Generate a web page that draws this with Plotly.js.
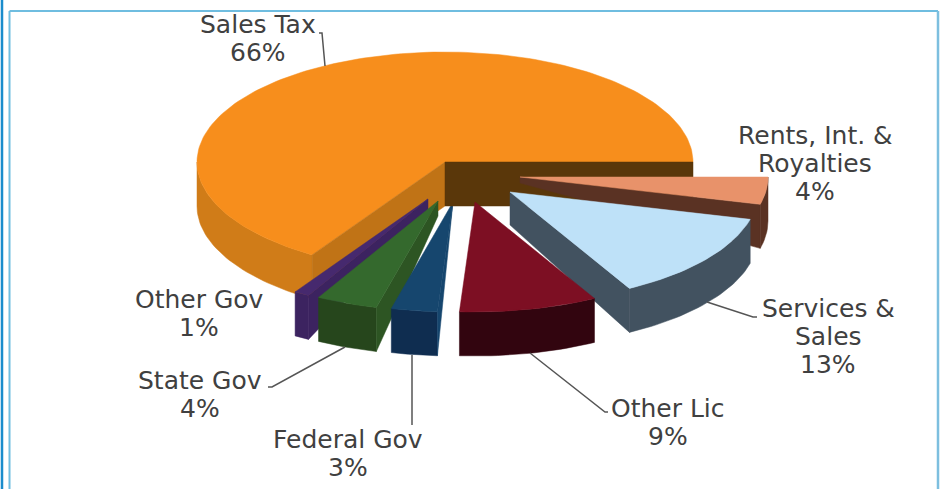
<!DOCTYPE html>
<html>
<head>
<meta charset="utf-8">
<script src="https://cdn.plot.ly/plotly-3.0.1.min.js"></script>
<style>html,body{margin:0;padding:0;background:#fff}#c{width:943px;height:489px}</style>
</head>
<body>
<div id="c"></div>
<script>
// Data, counter-clockwise from east
const categories = ["Sales Tax","Other Gov","State Gov","Federal Gov","Other Lic","Services &<br>Sales","Rents, Int. &<br>Royalties"];
const shares = [66,1,4,3,9,13,4];

// Styles for each slice
const topColors  = ["#f78e1c","#46296e","#34692d","#16466e","#7d0f23","#bee1f8","#e8926a"];
const arcColors  = ["#d07c18","#3c2360","#26461c","#0f2d50","#32050f","#425260","#5a3223"];
const sideColors = ["#5a370a","#3c2360","#2d5523","#16466e","#32050f","#425260","#5a3223"];

// Pull of each slice from the pie centre, and the depth of its inner corner
const pullX = [0,-17,-7,8,30,65,75];
const pullY = [0,37,39,40,40,30,15];
const innerDepth = [44,14,15,0,44,33,6];

// Label anchors and leader paths
const labelX = [258,199,200,348,668,828,815];
const labelY = [38,313,394,453,422,336,163];
const leaderX = [[319,322,325],[],[268,272,345],[412,412],[530,605,608],[707,753,757],[]];
const leaderY = [[33,33,66],[],[387,387,347],[355,425],[353,412,412],[302,317,317],[]];

// Pie projection
const cx = 445, cy = 162, rx = 248, ry = 110, depth = 44, lineGap = 28;
const rad = d => d * Math.PI / 180;
const px = (i, a) => cx + pullX[i] + rx * Math.cos(rad(a));
const py = (i, a) => cy + pullY[i] - ry * Math.sin(rad(a));

const total = shares.reduce((s, v) => s + v, 0);
let run = 0;
const spans = shares.map(v => { const a0 = run * 360 / total; run += v; return [a0, run * 360 / total]; });

function arcAngles(a0, a1) {
  const n = Math.max(2, Math.ceil((a1 - a0) / 1.5));
  const out = [];
  for (let k = 0; k <= n; k++) out.push(a0 + (a1 - a0) * k / n);
  return out;
}
function poly(x, y, color) {
  return {type:"scatter", mode:"lines", x:x.concat(x[0]), y:y.concat(y[0]), fill:"toself",
          fillcolor:color, line:{width:0.5, color:color}, hoverinfo:"skip", showlegend:false};
}
function topFace(i) {
  const as = arcAngles(spans[i][0], spans[i][1]);
  return poly([cx + pullX[i]].concat(as.map(a => px(i, a))),
              [cy + pullY[i]].concat(as.map(a => py(i, a))), topColors[i]);
}
function arcWall(i) {
  const a0 = Math.max(spans[i][0], 180), a1 = spans[i][1];
  const as = arcAngles(a0, a1);
  const rev = as.slice().reverse();
  return poly(as.map(a => px(i, a)).concat(rev.map(a => px(i, a))),
              as.map(a => py(i, a)).concat(rev.map(a => py(i, a) + depth)), arcColors[i]);
}
function sideWall(i, a) {
  const ax = cx + pullX[i], ay = cy + pullY[i];
  return poly([ax, px(i, a), px(i, a), ax],
              [ay, py(i, a), py(i, a) + depth, ay + innerDepth[i]], sideColors[i]);
}
const S = spans;
const traces = [
  arcWall(0), topFace(0),
  poly([cx, px(0, S[0][1]), px(0, S[0][1]), cx],
       [cy, py(0, S[0][1]), py(0, S[0][1]) + depth, cy + depth], "#c07316"),
  arcWall(1), sideWall(1, S[1][1]), topFace(1),
  arcWall(2), sideWall(2, S[2][1]), topFace(2),
  arcWall(3), sideWall(3, S[3][1]), topFace(3),
  sideWall(0, S[0][0]),
  arcWall(6), sideWall(6, S[6][0]), topFace(6),
  arcWall(5), sideWall(5, S[5][0]), topFace(5),
  arcWall(4), topFace(4)
];
leaderX.forEach((lx, i) => {
  if (lx.length) traces.push({type:"scatter", mode:"lines", x:lx, y:leaderY[i],
    line:{color:"#555555", width:1.5}, hoverinfo:"skip", showlegend:false});
});

const annotations = [];
categories.forEach((c, i) => {
  const lines = c.split("<br>").concat(shares[i] + "%");
  lines.forEach((t, k) => annotations.push({
    x: labelX[i], y: labelY[i] + (k - (lines.length - 1) / 2) * lineGap, xref:"x", yref:"y",
    showarrow:false, text:t, align:"center",
    font:{family:"DejaVu Sans, Verdana, sans-serif", size:25, color:"#404040"}
  }));
});

const frame = (x0,y0,x1,y1,color,w) => ({type:"line", xref:"x", yref:"y", x0, y0, x1, y1, line:{color, width:w}});
const layout = {
  width:943, height:489, margin:{l:0,r:0,t:0,b:0},
  paper_bgcolor:"#ffffff", plot_bgcolor:"#ffffff", showlegend:false, hovermode:false,
  xaxis:{range:[0,943], visible:false, fixedrange:true},
  yaxis:{range:[489,0], visible:false, fixedrange:true},
  annotations,
  shapes:[
    frame(2,0,2,489,"#1a8ccc",2.5),
    frame(9.5,11,9.5,489,"#6fbde0",2),
    frame(9.5,11,938,11,"#6fbde0",2),
    frame(938,11,938,489,"#7dbfdf",2.5)
  ]
};
Plotly.newPlot("c", traces, layout, {displayModeBar:false, staticPlot:true});
</script>
</body>
</html>
